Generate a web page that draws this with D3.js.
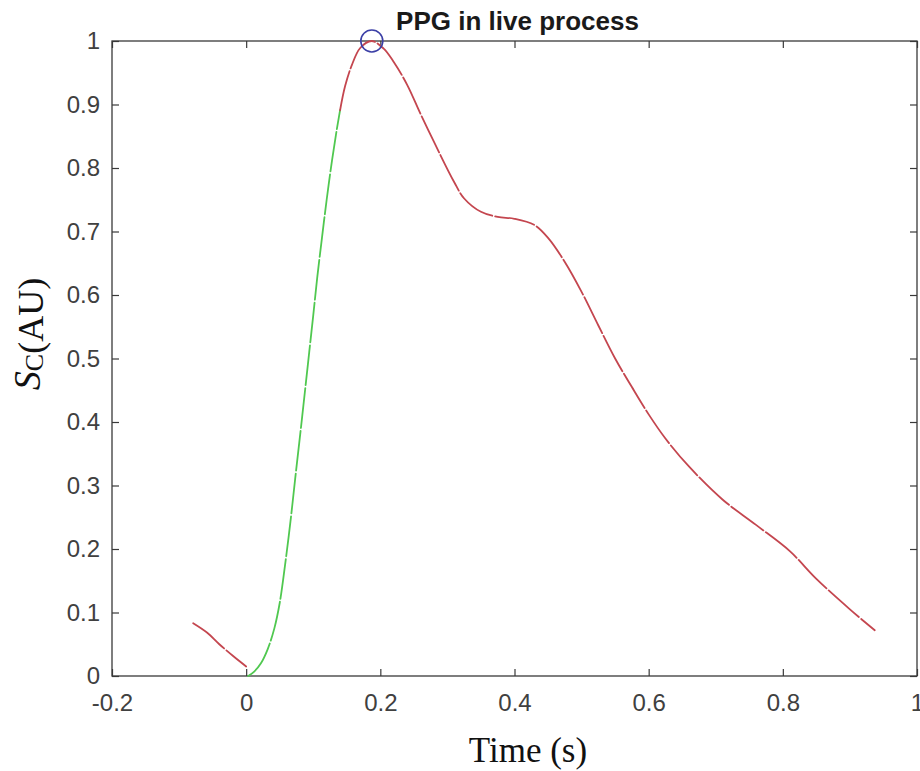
<!DOCTYPE html>
<html>
<head>
<meta charset="utf-8">
<script src="https://cdn.jsdelivr.net/npm/d3@7"></script>
<style>
  body { margin: 0; background: #fff; }
  text { font-family: "Liberation Sans", Arial, sans-serif; }
</style>
</head>
<body>
<div id="chart"></div>
<script>
const WIDTH = 920, HEIGHT = 771;
const margin = {top: 41, right: 3, bottom: 95, left: 112};

// pre-onset part of the pulse (red)
const preTime = [-0.079, -0.058, -0.04, -0.019, 0.0];
const preValue = [0.083, 0.068, 0.050, 0.031, 0.015];

// rising edge (green)
const riseTime = [0.003, 0.012, 0.022, 0.032, 0.042, 0.05, 0.058, 0.066, 0.073, 0.0805, 0.088, 0.094, 0.1, 0.106, 0.113, 0.12, 0.128, 0.135, 0.140];
const riseValue = [0.0, 0.007, 0.02, 0.042, 0.075, 0.115, 0.175, 0.243, 0.31, 0.38, 0.452, 0.51, 0.568, 0.628, 0.69, 0.75, 0.812, 0.86, 0.891];

// peak and decay (red)
const fallTime = [0.140, 0.1475, 0.1575, 0.17, 0.187, 0.205, 0.22, 0.24, 0.26, 0.28, 0.31, 0.325, 0.35, 0.375, 0.40, 0.43, 0.45, 0.475, 0.50, 0.525, 0.55, 0.575, 0.60, 0.625, 0.66, 0.71, 0.76, 0.81, 0.85, 0.90, 0.937];
const fallValue = [0.891, 0.929, 0.962, 0.989, 1.0, 0.988, 0.967, 0.931, 0.885, 0.841, 0.778, 0.752, 0.731, 0.723, 0.72, 0.71, 0.69, 0.652, 0.605, 0.552, 0.500, 0.455, 0.412, 0.374, 0.33, 0.278, 0.238, 0.197, 0.153, 0.105, 0.072];

// detected peak marker
const peakTime = [0.1873];
const peakValue = [1.0];

const xTicks = [-0.2, 0, 0.2, 0.4, 0.6, 0.8, 1];
const xTickLabels = ["-0.2", "0", "0.2", "0.4", "0.6", "0.8", "1"];
const yTicks = [0, 0.1, 0.2, 0.3, 0.4, 0.5, 0.6, 0.7, 0.8, 0.9, 1];
const yTickLabels = ["0", "0.1", "0.2", "0.3", "0.4", "0.5", "0.6", "0.7", "0.8", "0.9", "1"];

let w = WIDTH - margin.left - margin.right;
let h = HEIGHT - margin.top - margin.bottom;

let svg = d3.select("#chart")
    .append("svg")
    .attr("width", WIDTH)
    .attr("height", HEIGHT);

let g = svg.append("g")
    .attr("transform", `translate(${margin.left}, ${margin.top})`);

let x = d3.scaleLinear().domain([-0.2, 1]).range([0, w]);
let y = d3.scaleLinear().domain([0, 1]).range([h, 0]);

const axisColor = "#3a3a3a";
const labelColor = "#404040";

// axes, ticks pointing inward like matlab
function styleAxis(sel) {
    sel.select(".domain").remove();
    sel.selectAll(".tick line").attr("stroke", axisColor).attr("stroke-width", 1.2);
    sel.selectAll(".tick text").attr("fill", labelColor).style("font-size", "24px");
}

g.append("g")
    .attr("transform", `translate(0, ${h})`)
    .call(d3.axisBottom(x).tickValues(xTicks).tickFormat((d, i) => xTickLabels[i]).tickSizeInner(-7).tickSizeOuter(0).tickPadding(18))
    .call(styleAxis);

g.append("g")
    .call(d3.axisLeft(y).tickValues(yTicks).tickFormat((d, i) => yTickLabels[i]).tickSizeInner(-7).tickSizeOuter(0).tickPadding(12))
    .call(styleAxis);

g.append("g")
    .call(d3.axisTop(x).tickValues(xTicks).tickFormat("").tickSizeInner(-7).tickSizeOuter(0))
    .call(styleAxis);

g.append("g")
    .attr("transform", `translate(${w}, 0)`)
    .call(d3.axisRight(y).tickValues(yTicks).tickFormat("").tickSizeInner(-7).tickSizeOuter(0))
    .call(styleAxis);

// box
g.append("rect")
    .attr("width", w)
    .attr("height", h)
    .attr("fill", "none")
    .attr("stroke", axisColor)
    .attr("stroke-width", 1.3);

let line = d3.line()
    .x(d => x(d[0]))
    .y(d => y(d[1]))
    .curve(d3.curveCatmullRom.alpha(0.5));

function drawPart(times, values, color) {
    let pts = times.map((t, i) => [t, values[i]]);
    g.append("path")
        .datum(pts)
        .attr("d", line)
        .attr("fill", "none")
        .attr("stroke", color)
        .attr("stroke-width", 1.8)
        .attr("stroke-dasharray", "40,3")
        .attr("stroke-linecap", "round");
}

drawPart(preTime, preValue, "#c4464f");
drawPart(riseTime, riseValue, "#50c850");
drawPart(fallTime, fallValue, "#c4464f");

g.selectAll(".peak")
    .data(peakTime)
    .enter()
    .append("circle")
    .attr("class", "peak")
    .attr("cx", d => x(d))
    .attr("cy", (d, i) => y(peakValue[i]))
    .attr("r", 11)
    .attr("fill", "none")
    .attr("stroke", "#3b3fa6")
    .attr("stroke-width", 1.6);

// title
svg.append("text")
    .attr("x", margin.left + w / 2 + 3)
    .attr("y", 30)
    .attr("text-anchor", "middle")
    .style("font-size", "26px")
    .style("font-weight", "bold")
    .attr("fill", "#1a1a1a")
    .text("PPG in live process");

// x label
svg.append("text")
    .attr("x", 528)
    .attr("y", 762)
    .attr("text-anchor", "middle")
    .style("font-family", "'Liberation Serif', 'Times New Roman', serif")
    .style("font-size", "35px")
    .attr("fill", "#111")
    .text("Time (s)");

// y label S_C(AU)
let ylab = svg.append("text")
    .attr("transform", "translate(43, 334) rotate(-90)")
    .attr("text-anchor", "middle")
    .style("font-family", "'Liberation Serif', 'Times New Roman', serif")
    .style("font-size", "36px")
    .attr("fill", "#111");
ylab.append("tspan").style("font-style", "italic").style("font-size", "38px").attr("dy", -3).text("S");
ylab.append("tspan").style("font-size", "26px").attr("dy", 3).text("C");
ylab.append("tspan").attr("dy", 0).text("(AU)");
</script>
</body>
</html>
